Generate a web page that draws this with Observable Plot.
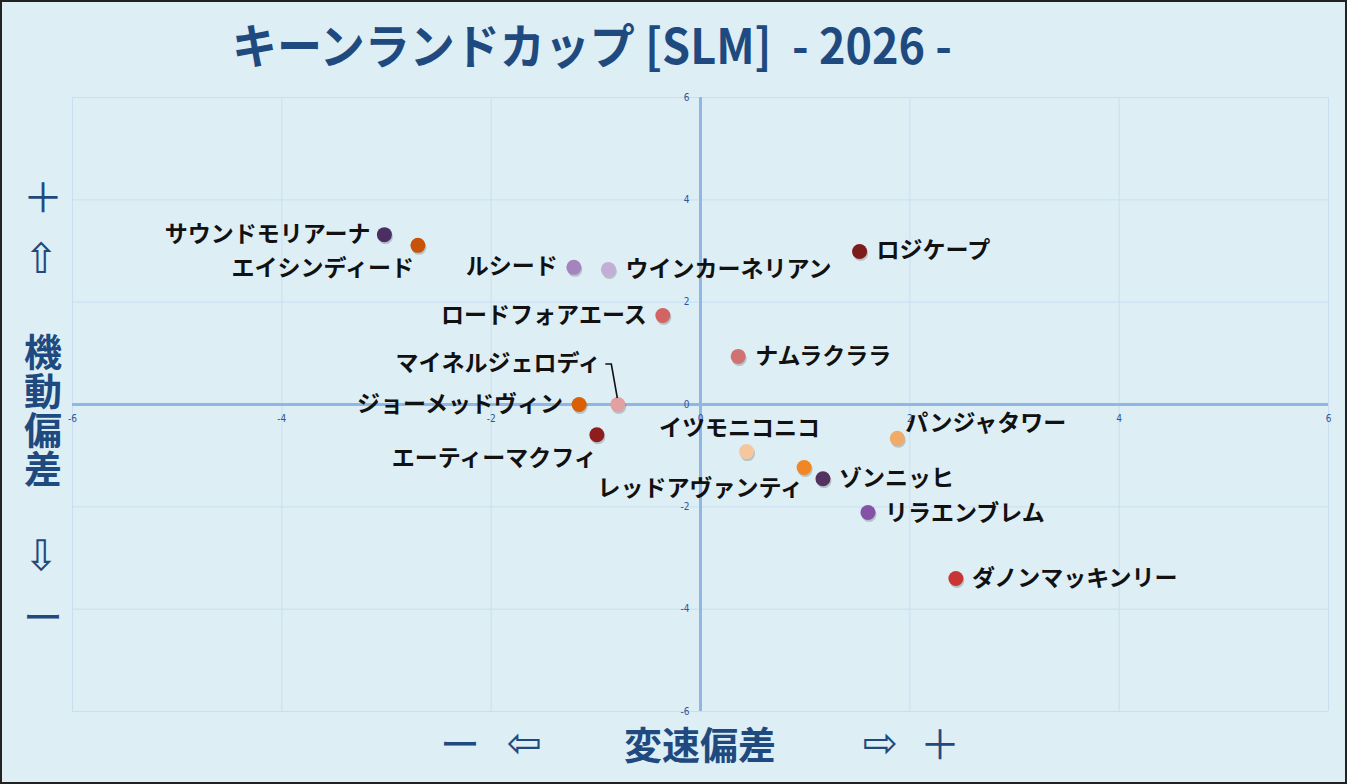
<!DOCTYPE html>
<html>
<head>
<meta charset="utf-8">
<script src="https://cdn.jsdelivr.net/npm/d3@7"></script>
<script src="https://cdn.jsdelivr.net/npm/@observablehq/plot@0.6"></script>
<style>
  html, body { margin: 0; padding: 0; background: #ddeef5; }
  #chart { width: 1347px; height: 784px; position: relative; }
  svg { display: block; }
</style>
</head>
<body>
<div id="chart"></div>
<script>
// ---------- data ----------
const horses = [
  "サウンドモリアーナ", "エイシンディード", "ルシード", "ウインカーネリアン",
  "ロジケープ", "ロードフォアエース", "ナムラクララ", "マイネルジェロディ",
  "ジョーメッドヴィン", "エーティーマクフィ", "イツモニコニコ", "パンジャタワー",
  "レッドアヴァンティ", "ゾンニッヒ", "リラエンブレム", "ダノンマッキンリー"
];
const speedDev = [-3.02, -2.70, -1.21, -0.88, 1.52, -0.36, 0.36, -0.79,
                  -1.16, -0.99, 0.44, 1.88, 0.99, 1.17, 1.60, 2.44];
const mobilityDev = [3.32, 3.11, 2.68, 2.64, 2.99, 1.74, 0.94, 0.00,
                     0.00, -0.59, -0.92, -0.66, -1.23, -1.45, -2.11, -3.40];
const dotColors = ["#4b2f63", "#c85208", "#a584bd", "#c3aed6", "#7d1c1c", "#d26464",
                   "#d07272", "#e3a0a0", "#d96005", "#8e1e1e", "#f6c79f", "#f2aa68",
                   "#f28524", "#54325f", "#8452a6", "#c83535"];
const xTicks = [-6, -4, -2, 0, 2, 4, 6];
const yTicks = [-6, -4, -2, 0, 2, 4, 6];
const titleText = "キーンランドカップ [SLM]  - 2026 -";
const xAxisTitle = "変速偏差";
const yAxisTitle = ["機", "動", "偏", "差"];

// ---------- label layout (pixels, not data) ----------
const labelLayout = [
  {a: "end", dx: -14, dy: 0}, {a: "end", dx: -4, dy: 23}, {a: "end", dx: -16, dy: -1},
  {a: "start", dx: 17, dy: 0}, {a: "start", dx: 17, dy: -1}, {a: "end", dx: -16, dy: 0},
  {a: "start", dx: 17, dy: 0}, {a: "end", dx: -17, dy: -41}, {a: "end", dx: -16, dy: 0},
  {a: "end", dx: 0, dy: 24}, {a: "middle", dx: -7, dy: -23}, {a: "start", dx: 8, dy: -15},
  {a: "end", dx: -1, dy: 21}, {a: "start", dx: 16, dy: 0}, {a: "start", dx: 17, dy: 1},
  {a: "start", dx: 16, dy: 0}
];

const data = horses.map((name, i) => ({
  name, x: speedDev[i], y: mobilityDev[i], color: dotColors[i], ...labelLayout[i]
}));

const jp = "'Noto Sans CJK JP', 'Noto Sans', sans-serif";
const tickFont = "'Liberation Sans Narrow', 'DejaVu Sans Condensed', sans-serif";
const gridColor = "#c9def0";
const axisColor = "#8fb6e4";
const tickColor = "#2f5597";
const navy = "#1f4a80";

const textMarks = data.map(d => Plot.text([d], {
  x: "x", y: "y", text: "name", textAnchor: d.a, dx: d.dx, dy: d.dy,
  fontSize: 23, fontWeight: 700, fill: "#111", fontFamily: jp
}));

const plot = Plot.plot({
  width: 1347,
  height: 784,
  marginLeft: 72,
  marginRight: 19,
  marginTop: 97,
  marginBottom: 73,
  style: { background: "#ddeef5", overflow: "visible" },
  x: { domain: [-6, 6], axis: null },
  y: { domain: [-6, 6], axis: null },
  marks: [
    Plot.ruleX(xTicks.filter(t => t !== 0), { stroke: gridColor, strokeWidth: 1 }),
    Plot.ruleY(yTicks.filter(t => t !== 0), { stroke: gridColor, strokeWidth: 1 }),
    Plot.ruleX([0], { stroke: axisColor, strokeWidth: 3 }),
    Plot.ruleY([0], { stroke: axisColor, strokeWidth: 3 }),
    Plot.text(xTicks, { x: d => d, y: 0, text: d => String(d), dy: 14, fontSize: 10, fill: tickColor, fontFamily: tickFont }),
    Plot.text(yTicks, { x: 0, y: d => d, text: d => String(d), dx: -11, textAnchor: "end", fontSize: 10, fill: tickColor, fontFamily: tickFont }),
    Plot.dot(data, { x: "x", y: "y", r: 7.5, fill: "#000", fillOpacity: 0.18, dx: 1, dy: 2 }),
    Plot.dot(data, { x: "x", y: "y", r: 7.5, fill: "color" }),
    ...textMarks
  ]
});

document.getElementById("chart").appendChild(plot);

// ---------- annotations drawn with the plot's own scales ----------
const svg = d3.select(plot);
const sx = plot.scale("x"), sy = plot.scale("y");
const mj = data.find(d => d.name === "マイネルジェロディ");
const px = sx.apply(mj.x), py = sy.apply(mj.y);
svg.append("path")
  .attr("d", `M${px - 12},${py - 40} L${px - 6},${py - 40} L${px},${py - 6}`)
  .attr("fill", "none").attr("stroke", "#111").attr("stroke-width", 1.6);

// title
svg.append("text")
  .attr("x", 232).attr("y", 64)
  .attr("text-anchor", "start")
  .attr("textLength", 720).attr("lengthAdjust", "spacingAndGlyphs")
  .style("white-space", "pre")
  .attr("font-family", jp).attr("font-weight", 700).attr("font-size", 48)
  .attr("fill", navy)
  .text(titleText);

function navText(x, y, t, size, fam, weight) {
  svg.append("text").attr("x", x).attr("y", y)
    .attr("text-anchor", "middle").attr("dominant-baseline", "central")
    .attr("font-family", fam || jp).attr("font-weight", weight || 700).attr("font-size", size)
    .attr("fill", navy).text(t);
}
const arrowFont = "'DejaVu Sans', sans-serif";
// left axis title
const leftX = 43;
navText(leftX, 195, "＋", 40, jp, 400);
navText(leftX - 2, 258, "⇧", 42, arrowFont, 400);
yAxisTitle.forEach((c, i) => navText(leftX, 349 + i * 39, c, 38));
navText(leftX - 2, 555, "⇩", 42, arrowFont, 400);
navText(leftX, 615, "ー", 40, jp, 400);

// bottom axis title
navText(460, 742, "ー", 40, jp, 400);
navText(524, 742, "⇦", 42, arrowFont, 400);
navText(700, 742, xAxisTitle, 38);
navText(880, 742, "⇨", 42, arrowFont, 400);
navText(940, 742, "＋", 40, jp, 400);

// outer frame
svg.append("rect").attr("x", 1).attr("y", 1).attr("width", 1345).attr("height", 782)
  .attr("fill", "none").attr("stroke", "#222").attr("stroke-width", 2);
</script>
</body>
</html>
